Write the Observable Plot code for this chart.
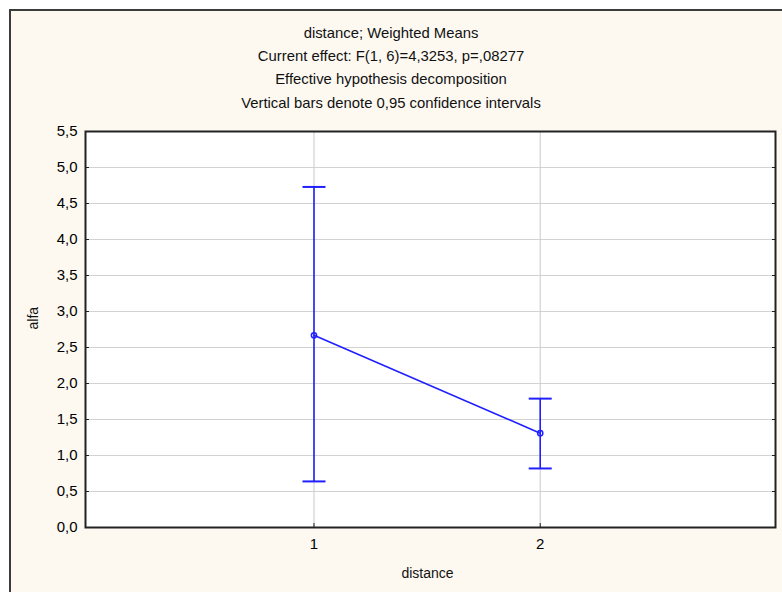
<!DOCTYPE html>
<html>
<head>
<meta charset="utf-8">
<script src="https://cdn.jsdelivr.net/npm/d3@7"></script>
<script src="https://cdn.jsdelivr.net/npm/@observablehq/plot@0.6"></script>
<style>
  html, body { margin: 0; padding: 0; background: #ffffff; }
  #wrap { position: relative; width: 782px; height: 592px; overflow: hidden; background: #ffffff; font-family: "Liberation Sans", Arial, sans-serif; }
  #panel { position: absolute; left: 9px; top: 9px; right: -4px; bottom: -4px; border-left: 2px solid #3c3c3c; border-top: 2px solid #3c3c3c; background: #fdf9f1; }
  #title { position: absolute; left: 0; top: 0; width: 782px; text-align: center; color: #111; font-size: 15px; }
  #title div { position: absolute; width: 782px; left: 0px; transform: scaleX(0.99); }
  #chart { position: absolute; left: 0; top: 118px; }
</style>
</head>
<body>
<div id="wrap">
  <div id="panel"></div>
  <div id="title"></div>
  <div id="chart"></div>
</div>
<script>
// ---- data ----
const titleLines = [
  "distance; Weighted Means",
  "Current effect: F(1, 6)=4,3253, p=,08277",
  "Effective hypothesis decomposition",
  "Vertical bars denote 0,95 confidence intervals"
];
const distance = [1, 2];
const alfaMean = [2.67, 1.31];
const ciLower = [0.64, 0.82];
const ciUpper = [4.73, 1.79];
const yTicks = [0, 0.5, 1, 1.5, 2, 2.5, 3, 3.5, 4, 4.5, 5, 5.5];
const xTicks = [1, 2];
const xLabel = "distance";
const yLabel = "alfa";

const rows = distance.map((d, i) => ({x: d, mean: alfaMean[i], lo: ciLower[i], hi: ciUpper[i]}));

// title
const tEl = document.getElementById("title");
const tTops = [24, 47, 70, 94];
titleLines.forEach((t, i) => {
  const el = document.createElement("div");
  el.textContent = t;
  el.style.top = tTops[i] + "px";
  tEl.appendChild(el);
});

const blue = "#1f1fff";
const commaFmt = d => d3.format(".1f")(d).replace(".", ",");
const capSymbol = { draw(ctx) { ctx.moveTo(-11.5, 0); ctx.lineTo(11.5, 0); } };

const plot = Plot.plot({
  width: 782,
  height: 474,
  marginLeft: 85,
  marginRight: 7,
  marginTop: 13,
  marginBottom: 65,
  style: { background: "transparent", fontFamily: "Liberation Sans, Arial, sans-serif" },
  x: { domain: [-0.01, 3.04] },
  y: { domain: [0, 5.5] },
  marks: [
    Plot.frame({ fill: "white", stroke: null }),
    Plot.gridY(yTicks, { stroke: "#d2d2d2", strokeOpacity: 1, strokeWidth: 1.2 }),
    Plot.gridX(xTicks, { stroke: "#d2d2d2", strokeOpacity: 1, strokeWidth: 1.2 }),
    Plot.axisY(yTicks, { anchor: "left", tickSize: -4, tickPadding: 12, tickFormat: commaFmt, fontSize: 15, fill: "#000", stroke: "#1e1e1e", label: null }),
    Plot.axisY(yTicks, { anchor: "right", tickSize: -4, tickFormat: () => "", stroke: "#1e1e1e", label: null }),
    Plot.axisX(xTicks, { anchor: "bottom", tickSize: -4, tickPadding: 15, tickFormat: d => String(d), fontSize: 15, fill: "#000", stroke: "#1e1e1e", label: null }),
    Plot.frame({ stroke: "#222", strokeWidth: 2 }),
    Plot.ruleX(rows, { x: "x", y1: "lo", y2: "hi", stroke: blue, strokeWidth: 1.6 }),
    Plot.dot(rows, { x: "x", y: "lo", symbol: capSymbol, stroke: blue, strokeWidth: 2, r: 3 }),
    Plot.dot(rows, { x: "x", y: "hi", symbol: capSymbol, stroke: blue, strokeWidth: 2, r: 3 }),
    Plot.line(rows, { x: "x", y: "mean", stroke: blue, strokeWidth: 1.6 }),
    Plot.dot(rows, { x: "x", y: "mean", r: 2.6, stroke: blue, strokeWidth: 1.5, fill: "none" }),
    Plot.text([yLabel], { frameAnchor: "left", dx: -52, rotate: -90, fontSize: 14, fill: "#111" }),
    Plot.text([xLabel], { frameAnchor: "bottom", dy: 50, dx: -3, fontSize: 14, fill: "#111" })
  ]
});
document.getElementById("chart").appendChild(plot);
</script>
</body>
</html>
